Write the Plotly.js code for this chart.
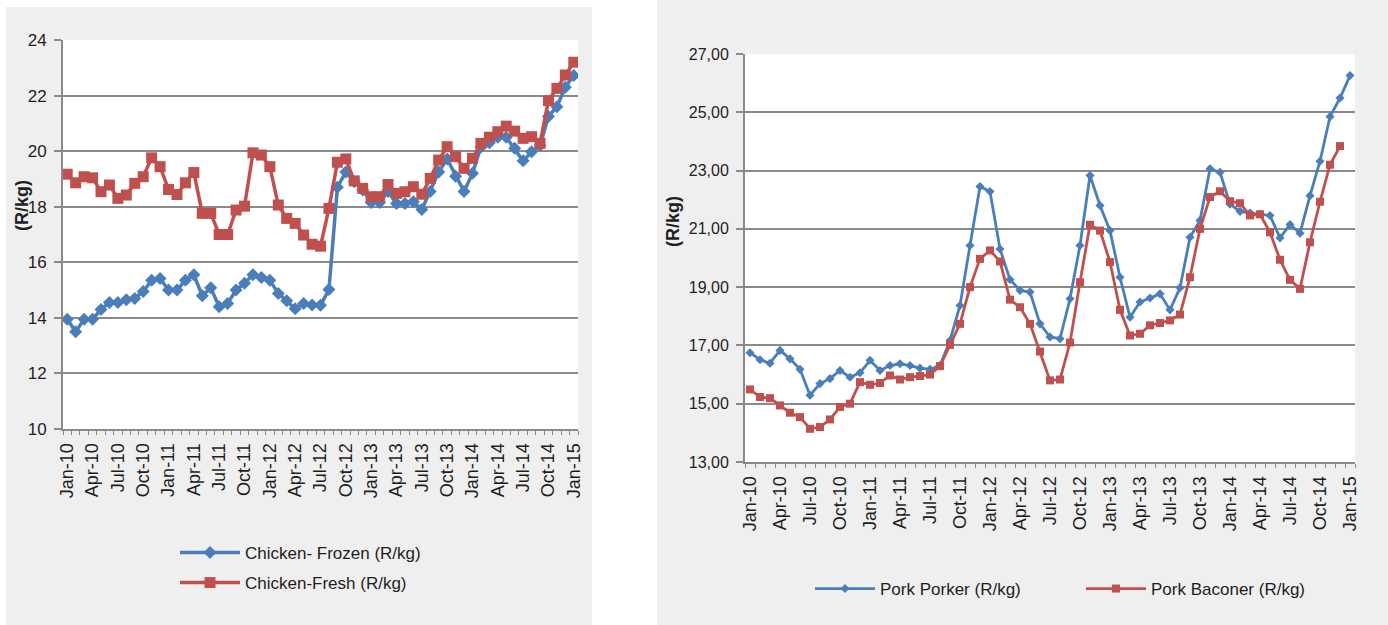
<!DOCTYPE html>
<html><head><meta charset="utf-8">
<script src="https://cdn.plot.ly/plotly-3.0.1.min.js"></script>
<style>html,body{margin:0;padding:0;background:#fff;} #chart{width:1388px;height:625px;}</style>
</head><body><div id="chart"></div>
<script>
const months = ['Jan-10','Feb-10','Mar-10','Apr-10','May-10','Jun-10','Jul-10','Aug-10','Sep-10','Oct-10','Nov-10','Dec-10',
  'Jan-11','Feb-11','Mar-11','Apr-11','May-11','Jun-11','Jul-11','Aug-11','Sep-11','Oct-11','Nov-11','Dec-11',
  'Jan-12','Feb-12','Mar-12','Apr-12','May-12','Jun-12','Jul-12','Aug-12','Sep-12','Oct-12','Nov-12','Dec-12',
  'Jan-13','Feb-13','Mar-13','Apr-13','May-13','Jun-13','Jul-13','Aug-13','Sep-13','Oct-13','Nov-13','Dec-13',
  'Jan-14','Feb-14','Mar-14','Apr-14','May-14','Jun-14','Jul-14','Aug-14','Sep-14','Oct-14','Nov-14','Dec-14','Jan-15'];
const tickLabels = ['Jan-10','Apr-10','Jul-10','Oct-10','Jan-11','Apr-11','Jul-11','Oct-11','Jan-12','Apr-12','Jul-12',
  'Oct-12','Jan-13','Apr-13','Jul-13','Oct-13','Jan-14','Apr-14','Jul-14','Oct-14','Jan-15'];

const chickenFrozen = [13.95,13.5,13.95,13.95,14.3,14.55,14.55,14.65,14.7,14.95,15.35,15.42,
  15.0,15.0,15.35,15.55,14.8,15.08,14.4,14.52,15.0,15.25,15.55,15.45,
  15.35,14.88,14.62,14.33,14.52,14.46,14.45,15.02,18.7,19.25,18.9,18.6,
  18.15,18.15,18.55,18.12,18.12,18.18,17.9,18.55,19.25,19.72,19.1,18.55,
  19.2,20.15,20.3,20.5,20.5,20.1,19.65,19.98,20.2,21.25,21.6,22.3,22.72];
const chickenFresh = [19.17,18.86,19.08,19.04,18.54,18.78,18.3,18.42,18.84,19.08,19.76,19.44,
  18.62,18.44,18.86,19.23,17.76,17.76,17.0,17.0,17.88,18.02,19.94,19.86,
  19.44,18.06,17.58,17.4,16.98,16.65,16.58,17.94,19.6,19.72,18.93,18.66,
  18.36,18.36,18.8,18.48,18.54,18.72,18.45,19.02,19.68,20.16,19.8,19.38,
  19.74,20.28,20.5,20.7,20.9,20.72,20.46,20.52,20.28,21.82,22.26,22.74,23.2];
const porkPorker = [16.75,16.51,16.39,16.83,16.54,16.18,15.29,15.69,15.86,16.14,15.91,16.06,
  16.49,16.14,16.31,16.37,16.31,16.22,16.18,16.31,17.17,18.37,20.43,22.45,
  22.28,20.31,19.26,18.89,18.83,17.74,17.29,17.23,18.6,20.43,22.83,21.8,
  20.94,19.34,17.97,18.49,18.63,18.77,18.22,18.98,20.71,21.29,23.06,22.94,
  21.85,21.6,21.54,21.51,21.46,20.69,21.15,20.85,22.14,23.32,24.85,25.49,26.26];
const porkBaconer = [15.49,15.23,15.19,14.94,14.69,14.54,14.14,14.2,14.46,14.89,15.0,15.74,
  15.65,15.71,15.97,15.83,15.91,15.95,16.0,16.29,17.02,17.74,19.0,19.97,
  20.26,19.88,18.57,18.31,17.74,16.79,15.8,15.83,17.1,19.17,21.14,20.94,
  19.86,18.22,17.34,17.4,17.69,17.77,17.86,18.06,19.34,21.0,22.09,22.29,
  21.95,21.88,21.46,21.5,20.88,19.94,19.25,18.94,20.54,21.93,23.2,23.84];

const W = 1388, H = 625;
const px = v => v / W;
const py = v => 1 - v / H;
const idx = months.map((_, i) => i);
const tickvals = tickLabels.map(l => months.indexOf(l));
const FONT = '"Liberation Sans", Arial, sans-serif';
const GRID = '#8a8a8a';
const TXT = '#1e1e1e';
const BLUE = '#4a7ebb';
const RED = '#c0504d';

function xax(domain, anchor) {
  return {
    domain: domain, anchor: anchor, range: [-0.5, 60.5],
    tickmode: 'array', tickvals: tickvals, ticktext: tickLabels, tickangle: -90,
    tickfont: {family: FONT, size: 18, color: TXT},
    showgrid: false, zeroline: false, showline: true, linecolor: GRID, linewidth: 2,
    ticks: 'outside', ticklen: 5, tickcolor: 'rgba(0,0,0,0)',
    minor: {ticks: 'outside', tick0: -0.5, dtick: 1, ticklen: 4, tickwidth: 1, tickcolor: GRID, showgrid: false},
    fixedrange: true
  };
}
function yax(domain, anchor, range, fmt, size) {
  return {
    domain: domain, anchor: anchor, range: range, tick0: range[0], dtick: 2,
    tickformat: fmt, tickfont: {family: FONT, size: size, color: TXT},
    showgrid: true, gridcolor: GRID, gridwidth: 2, zeroline: false,
    showline: true, linecolor: GRID, linewidth: 2,
    ticks: 'outside', ticklen: 7, tickwidth: 2, tickcolor: GRID,
    ticklabelstandoff: 4, fixedrange: true
  };
}

const traces = [
  {x: idx, y: chickenFrozen, xaxis: 'x', yaxis: 'y', mode: 'lines+markers', name: 'Chicken- Frozen (R/kg)',
   line: {color: BLUE, width: 3.5}, marker: {symbol: 'diamond', size: 10, color: BLUE}, legend: 'legend'},
  {x: idx, y: chickenFresh, xaxis: 'x', yaxis: 'y', mode: 'lines+markers', name: 'Chicken-Fresh (R/kg)',
   line: {color: RED, width: 3.5}, marker: {symbol: 'square', size: 11, color: RED}, legend: 'legend2'},
  {x: idx, y: porkPorker, xaxis: 'x2', yaxis: 'y2', mode: 'lines+markers', name: 'Pork Porker (R/kg)',
   line: {color: BLUE, width: 2.8}, marker: {symbol: 'diamond', size: 7, color: BLUE}, legend: 'legend3'},
  {x: idx.slice(0, porkBaconer.length), y: porkBaconer, xaxis: 'x2', yaxis: 'y2', mode: 'lines+markers', name: 'Pork Baconer (R/kg)',
   line: {color: RED, width: 2.8}, marker: {symbol: 'square', size: 8, color: RED}, legend: 'legend4'}
];

function leg(x, y) {
  return {x: px(x), y: py(y), xanchor: 'left', yanchor: 'middle', bgcolor: 'rgba(0,0,0,0)', borderwidth: 0,
          font: {family: FONT, size: 17, color: TXT}, itemwidth: 60, orientation: 'v'};
}

const layout = {
  width: W, height: H, margin: {l: 0, r: 0, t: 0, b: 0},
  paper_bgcolor: '#ffffff', plot_bgcolor: 'rgba(0,0,0,0)',
  separators: ', ', hovermode: false, showlegend: true,
  xaxis: xax([px(63), px(578)], 'y'),
  yaxis: yax([py(429), py(40)], 'x', [10, 24], 'd', 17),
  xaxis2: xax([px(745), px(1355)], 'y2'),
  yaxis2: yax([py(462), py(54)], 'x2', [13, 27], '.2f', 16),
  legend: leg(175, 553),
  legend2: leg(175, 583),
  legend3: leg(810, 589),
  legend4: leg(1081, 589),
  shapes: [
    {type: 'rect', xref: 'paper', yref: 'paper', x0: px(6), x1: px(592), y0: 0, y1: py(7), fillcolor: '#efefef', line: {width: 0}, layer: 'below'},
    {type: 'rect', xref: 'paper', yref: 'paper', x0: px(657), x1: 1, y0: 0, y1: 1, fillcolor: '#efefef', line: {width: 0}, layer: 'below'},
    {type: 'rect', xref: 'paper', yref: 'paper', x0: px(63), x1: px(578), y0: py(429), y1: py(40), fillcolor: '#ffffff', line: {width: 0}, layer: 'below'},
    {type: 'rect', xref: 'paper', yref: 'paper', x0: px(745), x1: px(1355), y0: py(462), y1: py(54), fillcolor: '#ffffff', line: {width: 0}, layer: 'below'}
  ],
  annotations: [
    {xref: 'paper', yref: 'paper', x: px(22), y: py(206), text: '<b>(R/kg)</b>', textangle: -90, showarrow: false,
     xanchor: 'center', yanchor: 'middle', font: {family: FONT, size: 18, color: TXT}},
    {xref: 'paper', yref: 'paper', x: px(673), y: py(222), text: '<b>(R/kg)</b>', textangle: -90, showarrow: false,
     xanchor: 'center', yanchor: 'middle', font: {family: FONT, size: 18, color: TXT}}
  ]
};

Plotly.newPlot('chart', traces, layout, {staticPlot: true, displayModeBar: false});
</script>
</body></html>
